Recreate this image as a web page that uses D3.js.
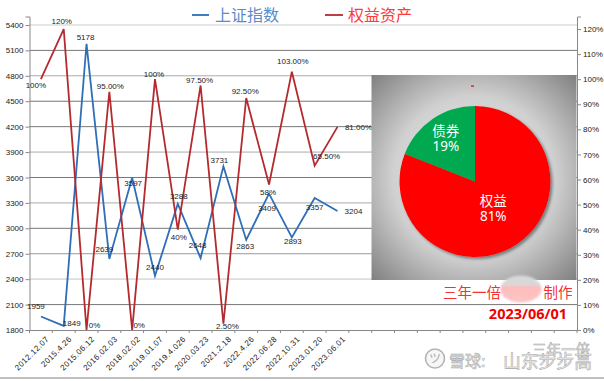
<!DOCTYPE html>
<html>
<head>
<meta charset="utf-8">
<script src="https://cdn.jsdelivr.net/npm/d3@7"></script>
<style>
  html, body { margin: 0; padding: 0; background: #fff; }
  svg { display: block; }
  .tick-label { font-family: "Liberation Sans", sans-serif; font-size: 8px; fill: #222; }
  .cjk { font-family: "Noto Sans CJK SC", sans-serif; }
</style>
</head>
<body>
<div id="chart"></div>
<script>
const dates = ["2012.12.07", "2015.4.26", "2015.06.12", "2016.02.03", "2018.02.02", "2019.01.07", "2019.4.026",
  "2020.03.23", "2021.2.18", "2022.4.26", "2022.06.28", "2022.10.31", "2023.01.20", "2023.06.01"];
const indexValues = [1959, 1849, 5178, 2639, 3597, 2440, 3288, 2648, 3731, 2863, 3409, 2893, 3357, 3204];
const equityValues = [100, 120, 0, 95, 0, 100, 40, 97.5, 2.5, 92.5, 58, 103, 65.5, 81];
const equityLabels = ["100%", "120%", "0%", "95.00%", "0%", "100%", "40%", "97.50%", "2.50%", "92.50%", "58%", "103.00%", "65.50%", "81.00%"];
const leftTicks = [1800, 2100, 2400, 2700, 3000, 3300, 3600, 3900, 4200, 4500, 4800, 5100, 5400];
const rightTicks = [0, 10, 20, 30, 40, 50, 60, 70, 80, 90, 100, 110, 120];
const pieNames = ["权益", "债券"];
const pieValues = [81, 19];

// empty slots on the category axis, the original sheet ran further than the data
const slots = dates.concat(d3.range(10).map(i => "blank" + i));

// label nudges from the point
const indexNudge = [[-5, -10], [8, -3], [-1, -7], [-5, -10], [1, 5], [0, -9], [1, -8], [-3, -13], [-4, -6], [-1, 6], [-2, 15], [1, 4], [0, 9], [16, 0]];
const equityNudge = [[-5, 6], [-2, -8], [8, -5], [1, -6], [7, -5], [-1, -5], [1, 8], [-1, -5], [4, 2], [-1, -7], [-1, 8], [1, -10], [12, -10], [21, 0]];
// the scan shows the grid in uneven greys
const gridShade = { 2100: "#777", 2400: "#ddd", 2700: "#999", 3000: "#777", 3300: "#aaa", 3600: "#777", 3900: "#aaa", 4200: "#777", 4500: "#777", 4800: "#aaa", 5100: "#777", 5400: "#ccc" };

const W = 604, H = 381;
const margin = { top: 16.5, right: 27, bottom: 51, left: 29.5 };
const bottomY = H - margin.bottom, rightX = W - margin.right;

const svg = d3.select("#chart").append("svg").attr("width", W).attr("height", H);

const x = d3.scaleBand().domain(slots).range([margin.left, rightX]);
const yL = d3.scaleLinear().domain([1800, 5500]).range([bottomY, margin.top]);
const yR = d3.scaleLinear().domain([0, 125]).range([bottomY, margin.top]);
const cx = d => x(d) + x.bandwidth() / 2;

// grid
svg.append("g").selectAll("line")
  .data(leftTicks.filter(d => d > 1800))
  .join("line")
  .attr("x1", margin.left).attr("x2", rightX)
  .attr("y1", d => yL(d)).attr("y2", d => yL(d))
  .attr("stroke", d => gridShade[d])
  .attr("stroke-width", d => d === 2400 ? 1.6 : 1);

// axes
const axisL = svg.append("g").attr("transform", `translate(${margin.left},0)`)
  .call(d3.axisLeft(yL).tickValues(leftTicks).tickSize(4).tickPadding(2).tickFormat(d3.format("d")));
const axisR = svg.append("g").attr("transform", `translate(${rightX},0)`)
  .call(d3.axisRight(yR).tickValues(rightTicks).tickSize(4).tickPadding(2).tickFormat(d => d + "%"));
const axisB = svg.append("g").attr("transform", `translate(0,${bottomY})`)
  .call(d3.axisBottom(x).tickValues(dates).tickSize(0).tickPadding(5));

[axisL, axisR, axisB].forEach(g => {
  g.selectAll(".domain").attr("stroke", "#888");
  g.selectAll(".tick line").attr("stroke", "#888");
  g.selectAll(".tick text").attr("class", "tick-label").attr("fill", null);
});

axisB.selectAll(".tick text")
  .attr("text-anchor", "end")
  .attr("dy", 0)
  .attr("letter-spacing", 0.45)
  .attr("transform", "translate(5,6) rotate(-45)");

// ticks sit on the band edges, not on the centres
svg.append("g").selectAll("line")
  .data(slots)
  .join("line")
  .attr("x1", d => x(d)).attr("x2", d => x(d))
  .attr("y1", bottomY).attr("y2", bottomY + 3)
  .attr("stroke", "#888");
svg.append("line")
  .attr("x1", rightX).attr("x2", rightX)
  .attr("y1", bottomY).attr("y2", bottomY + 3)
  .attr("stroke", "#888");

// lines
const lineIndex = d3.line().x((d, i) => cx(dates[i])).y(d => yL(d));
const lineEquity = d3.line().x((d, i) => cx(dates[i])).y(d => yR(d));

svg.append("path").datum(indexValues)
  .attr("d", lineIndex).attr("fill", "none")
  .attr("stroke", "#2e6fb7").attr("stroke-width", 1.8);
svg.append("path").datum(equityValues)
  .attr("d", lineEquity).attr("fill", "none")
  .attr("stroke", "#b52a2e").attr("stroke-width", 1.8);

// point labels
svg.append("g").selectAll("text")
  .data(indexValues)
  .join("text")
  .attr("class", "tick-label")
  .attr("text-anchor", "middle").attr("dy", "0.35em")
  .attr("x", (d, i) => cx(dates[i]) + indexNudge[i][0])
  .attr("y", (d, i) => yL(d) + indexNudge[i][1])
  .text(d => d);
svg.append("g").selectAll("text")
  .data(equityValues)
  .join("text")
  .attr("class", "tick-label")
  .attr("text-anchor", "middle").attr("dy", "0.35em")
  .attr("x", (d, i) => cx(dates[i]) + equityNudge[i][0])
  .attr("y", (d, i) => yR(d) + equityNudge[i][1])
  .text((d, i) => equityLabels[i]);

// legend
svg.append("line").attr("x1", 192).attr("x2", 209).attr("y1", 15).attr("y2", 15)
  .attr("stroke", "#2e6fb7").attr("stroke-width", 1.8);
svg.append("text").attr("class", "cjk").attr("x", 215).attr("y", 21)
  .attr("font-size", 16).attr("fill", "#5a8cc8").text("上证指数");
svg.append("line").attr("x1", 325).attr("x2", 343).attr("y1", 15).attr("y2", 15)
  .attr("stroke", "#b52a2e").attr("stroke-width", 1.8);
svg.append("text").attr("class", "cjk").attr("x", 348).attr("y", 21)
  .attr("font-size", 16).attr("fill", "#ff3a3a").text("权益资产");

// inset pie panel
const defs = svg.append("defs");
const grad = defs.append("radialGradient").attr("id", "panel").attr("r", "0.72");
grad.append("stop").attr("offset", "0%").attr("stop-color", "#f2f2f2");
grad.append("stop").attr("offset", "55%").attr("stop-color", "#d0d0d0");
grad.append("stop").attr("offset", "100%").attr("stop-color", "#7c7c7c");
const shadow = defs.append("filter").attr("id", "pie-shadow")
  .attr("x", "-10%").attr("y", "-10%").attr("width", "120%").attr("height", "120%");
shadow.append("feDropShadow").attr("dx", 2).attr("dy", 2).attr("stdDeviation", 1.5)
  .attr("flood-color", "#4a5a5a").attr("flood-opacity", 0.7);

svg.append("rect").attr("x", 371.5).attr("y", 75).attr("width", 205).attr("height", 205)
  .attr("fill", "url(#panel)");
svg.append("rect").attr("x", 471).attr("y", 85.5).attr("width", 3).attr("height", 1.2).attr("fill", "#f00000");

const pieG = svg.append("g").attr("transform", "translate(475,181.5)");
const pie = d3.pie().sort(null);
const arc = d3.arc().innerRadius(0).outerRadius(75.5);
const pieColors = d3.scaleOrdinal().domain(pieNames).range(["#ff0000", "#00a84f"]);

pieG.append("g").attr("filter", "url(#pie-shadow)").selectAll("path")
  .data(pie(pieValues))
  .join("path")
  .attr("d", arc)
  .attr("fill", (d, i) => pieColors(pieNames[i]));

const labelRadius = [32.5, 52];
const labelAt = (d, i) => {
  const a = (d.startAngle + d.endAngle) / 2;
  return [Math.sin(a) * labelRadius[i], -Math.cos(a) * labelRadius[i]];
};
pieG.selectAll(".slice-name")
  .data(pie(pieValues))
  .join("text")
  .attr("class", "slice-name cjk")
  .attr("text-anchor", "middle").attr("dy", "-0.2em")
  .attr("font-size", 13.5).attr("fill", "#fff")
  .attr("x", (d, i) => labelAt(d, i)[0]).attr("y", (d, i) => labelAt(d, i)[1])
  .text((d, i) => pieNames[i]);
pieG.selectAll(".slice-value")
  .data(pie(pieValues))
  .join("text")
  .attr("class", "slice-value")
  .attr("font-family", "'Noto Sans', sans-serif")
  .attr("text-anchor", "middle").attr("dy", "0.92em")
  .attr("font-size", 13.5).attr("fill", "#fff")
  .attr("x", (d, i) => labelAt(d, i)[0]).attr("y", (d, i) => labelAt(d, i)[1])
  .text(d => d.value + "%");

// maker note, the middle of it is smudged out in the source
svg.append("text").attr("class", "cjk").attr("x", 443).attr("y", 298)
  .attr("font-size", 14.5).attr("fill", "#f53030").text("三年一倍");
svg.append("text").attr("class", "cjk").attr("x", 543.5).attr("y", 298)
  .attr("font-size", 14.5).attr("fill", "#f53030").text("制作");
const smudge = defs.append("linearGradient").attr("id", "smudge-fill").attr("x1", 0).attr("x2", 0).attr("y1", 0).attr("y2", 1);
smudge.append("stop").attr("offset", "0%").attr("stop-color", "#d8d8d8");
smudge.append("stop").attr("offset", "36%").attr("stop-color", "#d8d8d8");
smudge.append("stop").attr("offset", "40%").attr("stop-color", "#fdbcbc");
smudge.append("stop").attr("offset", "100%").attr("stop-color", "#fdc4c4");
const blur = defs.append("filter").attr("id", "smudge");
blur.append("feGaussianBlur").attr("stdDeviation", 1);
svg.append("ellipse").attr("cx", 521).attr("cy", 289).attr("rx", 20.5).attr("ry", 13.5)
  .attr("fill", "url(#smudge-fill)").attr("filter", "url(#smudge)");
svg.append("text").attr("x", 528).attr("y", 318.5)
  .attr("text-anchor", "middle")
  .attr("font-family", "'Open Sans', sans-serif").attr("font-weight", 700)
  .attr("font-size", 14.5).attr("fill", "#f00000").text("2023/06/01");

// watermark, outlined glyphs as in the source
const mark = svg.append("g").attr("class", "cjk")
  .attr("fill", "#f0f0f0").attr("stroke", "#a8a8a8").attr("stroke-width", 0.55);
svg.append("circle").attr("cx", 435).attr("cy", 358.5).attr("r", 9.5)
  .attr("fill", "#f6f6f6").attr("stroke", "#b4b4b4").attr("stroke-width", 1.6);
svg.append("text").attr("class", "cjk").attr("x", 435).attr("y", 363)
  .attr("text-anchor", "middle").attr("font-size", 12).attr("fill", "#aaa").text("ツ");
mark.append("text").attr("x", 449).attr("y", 367).attr("font-size", 16).text("雪球:");
mark.append("text").attr("x", 532).attr("y", 355).attr("font-size", 14.5).text("三年一倍");
mark.append("text").attr("x", 503).attr("y", 368).attr("font-size", 17.8).text("山东步步高");

svg.append("line").attr("x1", 0).attr("x2", W).attr("y1", 378).attr("y2", 378)
  .attr("stroke", "#aaa").attr("stroke-width", 1.5);
</script>
</body>
</html>
